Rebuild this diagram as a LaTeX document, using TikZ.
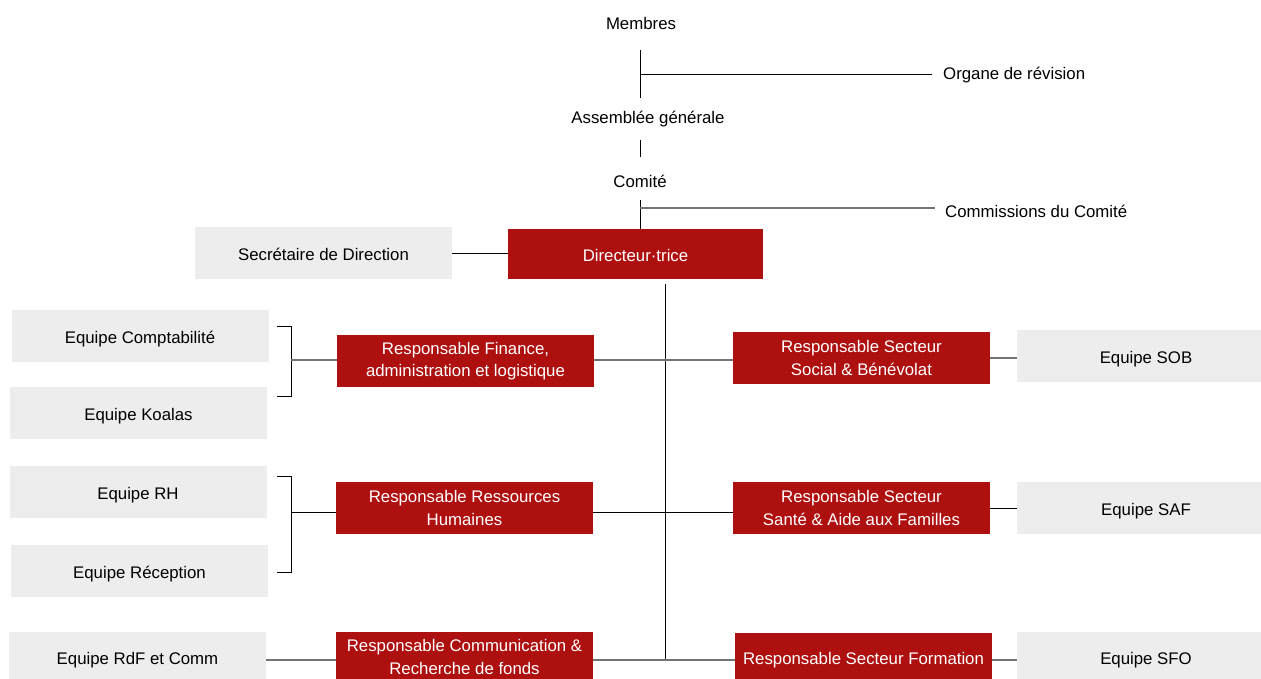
\documentclass[tikz,border=0pt]{standalone}
\usepackage{fontspec}
\setmainfont{Liberation Sans}
\usetikzlibrary{positioning}
\definecolor{rouge}{HTML}{AE1010}
\definecolor{gris}{HTML}{EDEDED}
\tikzset{
  resp/.style={fill=rouge, text=white, minimum width=257pt, minimum height=52pt, inner sep=0pt, align=center},
  equipe/.style={fill=gris, minimum width=257pt, minimum height=52pt, inner sep=0pt, align=center},
  uneligne/.style={text height=15pt, text depth=0pt},
  titre/.style={inner sep=0pt},
  lien/.style={draw=black, line width=0.9pt},
  liengris/.style={draw=black!55, line width=1.3pt}
}
\begin{document}
\begin{tikzpicture}[x=1pt,y=-1pt,font=\fontsize{16.8}{22.5}\selectfont]
            \useasboundingbox (0,0) rectangle (1261,679);
            % organes
            \node[titre] (membres) at (641,23) {Membres};
            \node[titre] (ag) at (648,119) {Assemblée générale};
            \node[titre] (comite) at (640,181) {Comité};
            \node[titre,anchor=west] (organe) at (943,75) {Organe de révision};
            \node[titre,anchor=west] (commissions) at (945,211) {Commissions du Comité};
            \coordinate (m1) at (640,50);
            \coordinate (m2) at (640,98);
            \coordinate (a1) at (640,140);
            \coordinate (a2) at (640,157);
            \coordinate (c1) at (640,200);
            \draw[lien] (m1) -- (m2);
            \draw[lien] (640,74) -- (932,74);
            \draw[lien] (a1) -- (a2);
            % direction
            \node[resp,uneligne,minimum width=255pt,minimum height=50pt] (dir) at (635.5,254) {Directeur·trice};
            \node[equipe,uneligne] (secretaire) at (323.5,253) {Secrétaire de Direction};
            \draw[lien] (c1) -- (c1 |- dir.north);
            \draw[liengris] (640,208) -- (935,208);
            \draw[lien] (secretaire.east) -- (secretaire.east -| dir.west);
            \coordinate (t1) at (665,284);
            \coordinate (t2) at (665,659);
            \draw[lien] (t1) -- (t2);
            % responsables
            \node[resp] (finance) at (465.5,361) {Responsable Finance,\\administration et logistique};
            \node[resp] (rh) at (464.5,508) {Responsable Ressources\\Humaines};
            \node[resp,minimum height=50pt] (comm) at (464.5,657) {Responsable Communication \&\\Recherche de fonds};
            \node[resp] (social) at (861.5,358) {Responsable Secteur\\Social \& Bénévolat};
            \node[resp] (sante) at (861.5,508) {Responsable Secteur\\Santé \& Aide aux Familles};
            \node[resp,uneligne,minimum height=48pt] (formation) at (863.5,657) {Responsable Secteur Formation};
            % equipes
            \node[equipe,uneligne] (compta) at (140,335.5) {Equipe Comptabilité};
            \node[equipe,uneligne] (koalas) at (138.5,412.5) {Equipe Koalas};
            \node[equipe,uneligne] (equiperh) at (138,492) {Equipe RH};
            \node[equipe,uneligne] (reception) at (139.5,571) {Equipe Réception};
            \node[equipe,uneligne,minimum height=50pt] (rdf) at (137.5,657) {Equipe RdF et Comm};
            \node[equipe,uneligne,minimum width=258pt] (sob) at (1146,356) {Equipe SOB};
            \node[equipe,uneligne,minimum width=258pt] (saf) at (1146,508) {Equipe SAF};
            \node[equipe,uneligne,minimum width=258pt,minimum height=50pt] (sfo) at (1146,657) {Equipe SFO};
            % crochets
            \coordinate (b1) at (291,360);
            \coordinate (b2) at (291,512);
            \coordinate (b3) at (291,660);
            \draw[lien] (277,326) -- (291,326) -- (291,396) -- (277,396);
            \draw[lien] (277,476) -- (291,476) -- (291,572) -- (277,572);
            \draw[liengris] (b1) -- (b1 -| finance.west);
            \draw[lien] (b2) -- (b2 -| rh.west);
            % liens
            \draw[liengris] (finance.east |- b1) -- (b1 -| social.west);
            \draw[lien] (rh.east |- b2) -- (b2 -| sante.west);
            \draw[liengris] (comm.east |- b3) -- (b3 -| formation.west);
            \draw[liengris] (rdf.east |- b3) -- (b3 -| comm.west);
            \draw[liengris] (social.east) -- (social.east -| sob.west);
            \draw[lien] (sante.east) -- (sante.east -| saf.west);
            \draw[liengris] (formation.east |- b3) -- (b3 -| sfo.west);
        \end{tikzpicture}
\end{document}
